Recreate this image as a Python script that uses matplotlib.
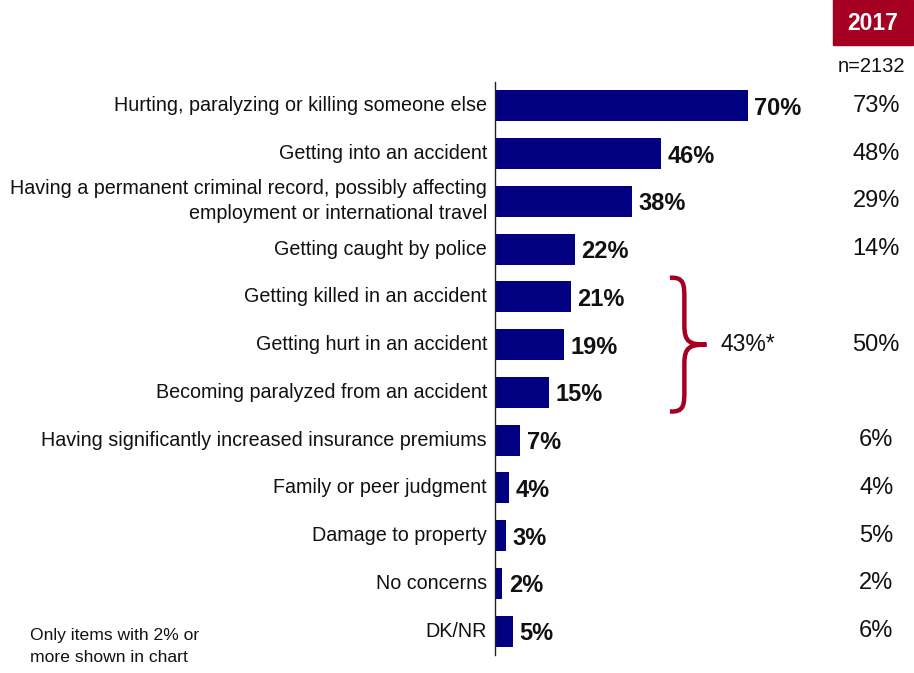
import matplotlib.pyplot as plt
from matplotlib.path import Path
from matplotlib.patches import PathPatch, Rectangle

plt.rcParams['font.family'] = ['Liberation Sans', 'DejaVu Sans']

concerns = [
    "Hurting, paralyzing or killing someone else",
    "Getting into an accident",
    "Having a permanent criminal record, possibly affecting\nemployment or international travel",
    "Getting caught by police",
    "Getting killed in an accident",
    "Getting hurt in an accident",
    "Becoming paralyzed from an accident",
    "Having significantly increased insurance premiums",
    "Family or peer judgment",
    "Damage to property",
    "No concerns",
    "DK/NR",
]
pct_current = [70, 46, 38, 22, 21, 19, 15, 7, 4, 3, 2, 5]
pct_2017 = ["73%", "48%", "29%", "14%", "", "50%", "", "6%", "4%", "5%", "2%", "6%"]
accident_net = "43%*"

NAVY = "#000080"
RED = "#A50021"

fig = plt.figure(figsize=(9.14, 6.73), dpi=100)
W, H = 914, 673
# axes placed in pixel terms: left edge 495, top 82, bottom 655, 100% = 361 px
ax = fig.add_axes([495 / W, 1 - 655 / H, 361.4 / W, 573 / H])
ax.set_xlim(0, 100)
ax.set_ylim(len(concerns) - 0.5, -0.5)

rows = list(range(len(concerns)))
ax.barh(rows, pct_current, height=0.65, color=NAVY)

for r, v in zip(rows, pct_current):
    ax.text(v + 1.8, r + 0.05, f"{v}%", va="center", ha="left",
            fontsize=17, fontweight="bold", color="#111111")

for r, lab in zip(rows, concerns):
    ax.text(-2.2, r, lab, va="center", ha="right", fontsize=14.2,
            color="#111111", linespacing=1.4)

for s in ["top", "right", "bottom"]:
    ax.spines[s].set_visible(False)
ax.spines["left"].set_linewidth(1.0)
ax.spines["left"].set_color("#222222")
ax.set_xticks([])
ax.set_yticks([])

# 2017 comparison column
for r, t in zip(rows, pct_2017):
    if t:
        ax.text(105.5, r, t, va="center", ha="center", fontsize=17,
                color="#111111", clip_on=False)

fig.patches.append(Rectangle((833 / W, 1 - 45 / H), 80 / W, 45 / H,
                             transform=fig.transFigure, color=RED))
fig.text(873 / W, 1 - 23 / H, "2017", ha="center", va="center",
         fontsize=16.5, fontweight="bold", color="white")
fig.text(871 / W, 1 - 66 / H, "n=2132", ha="center", va="center",
         fontsize=14.5, color="#111111")

# curly brace grouping the three accident items
x0, xm, xt = 48.4, 52.4, 58.5
yt, yb, yc = 3.6, 6.4, 5.0
verts = [
    (x0, yt),
    (xm, yt - 0.02), (xm, yt + 0.15), (xm, yt + 0.45),
    (xm, yc - 0.4),
    (xm, yc - 0.05), (xm + 1.5, yc), (xt, yc),
    (xm + 1.5, yc), (xm, yc + 0.05), (xm, yc + 0.4),
    (xm, yb - 0.45),
    (xm, yb - 0.15), (xm, yb + 0.02), (x0, yb),
]
codes = ([Path.MOVETO] + [Path.CURVE4] * 3 + [Path.LINETO] + [Path.CURVE4] * 6
         + [Path.LINETO] + [Path.CURVE4] * 3)
ax.add_patch(PathPatch(Path(verts, codes), facecolor="none", edgecolor=RED,
                       lw=3.2, capstyle="butt", clip_on=False))
ax.text(62.5, yc, accident_net, va="center", ha="left", fontsize=16.5,
        color="#111111", clip_on=False)

fig.text(30 / W, 1 - 628 / H, "Only items with 2% or\nmore shown in chart",
         ha="left", va="top", fontsize=12.6, color="#111111",
         linespacing=1.6)

fig.savefig("out.png", dpi=100)
